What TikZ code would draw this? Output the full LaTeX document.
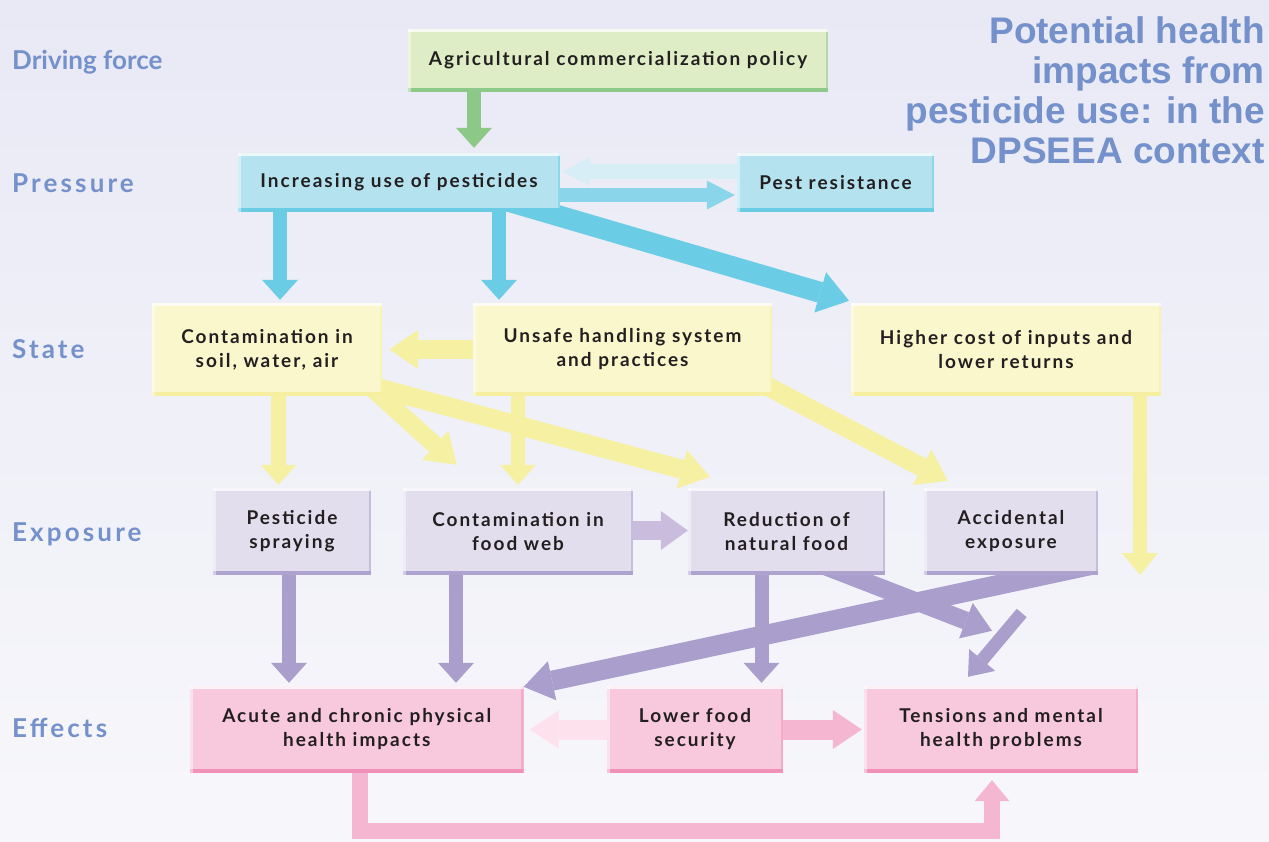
\documentclass[tikz,border=0pt]{standalone}
\usepackage{fontspec}
\usetikzlibrary{arrows.meta}
\setmainfont{Lato}
\newfontfamily\boxfont{Lato}[LetterSpace=10.5]
\newfontfamily\lblfont{Lato}
\newfontfamily\lblwide{Lato}[LetterSpace=12]
\newfontfamily\ttlfont{Liberation Sans}
\definecolor{bgtop}{HTML}{E8E9F5}
\definecolor{bgbot}{HTML}{F7F7FB}
\definecolor{txt}{HTML}{231F20}
\definecolor{lbl}{HTML}{7491CB}
\definecolor{gFill}{HTML}{DFEDC6}
\definecolor{gEdge}{HTML}{8DCA8A}
\definecolor{gArr}{HTML}{8CC888}
\definecolor{bFill}{HTML}{B4E3EF}
\definecolor{bEdge}{HTML}{6ACDE5}
\definecolor{bArr}{HTML}{6ACDE5}
\definecolor{bArrF}{HTML}{8BD5EA}
\definecolor{bArrB}{HTML}{D8EEF6}
\definecolor{yFill}{HTML}{FAF7CD}
\definecolor{yEdge}{HTML}{F6EFA1}
\definecolor{yArr}{HTML}{F6F0A3}
\definecolor{pFill}{HTML}{E2DEEE}
\definecolor{pEdge}{HTML}{AEA3CF}
\definecolor{pArr}{HTML}{AA9FCC}
\definecolor{pArrL}{HTML}{C9BCDD}
\definecolor{kFill}{HTML}{F8C9DD}
\definecolor{kEdge}{HTML}{F190B9}
\definecolor{kArr}{HTML}{F5B6D1}
\definecolor{kArrL}{HTML}{FDE1EC}
\begin{document}
\begin{tikzpicture}[x=1pt,y=-1pt,
  dbox/.style n args={4}{fill=#1, minimum width=#3, minimum height=#4, inner sep=0pt,
     align=center, text=txt, font=\boxfont\bfseries\fontsize{19}{24}\selectfont,
     path picture={
       \fill[#2] (path picture bounding box.south west) rectangle ([yshift=4pt]path picture bounding box.south east);
       \fill[#2!55!#1] ([xshift=-2.5pt]path picture bounding box.north east) rectangle ([yshift=4pt]path picture bounding box.south east);
       \fill[white,opacity=.75] (path picture bounding box.north west) rectangle ([yshift=-2.5pt]path picture bounding box.north east);
       \fill[white,opacity=.45] (path picture bounding box.north west) rectangle ([xshift=2.5pt]path picture bounding box.south west);
     }},
  blk/.style n args={4}{draw=#1, line width=#2, line join=miter, -{Triangle[width=#3,length=#4,line width'=0pt]}},
  side/.style={text=lbl, anchor=base west, inner sep=0pt, font=\lblfont\bfseries\fontsize{26}{30}\selectfont},
  sidew/.style={text=lbl, anchor=base west, inner sep=0pt, font=\lblwide\bfseries\fontsize{26}{30}\selectfont},
  ttl/.style={text=lbl, anchor=base east, align=right, inner sep=0pt, font=\ttlfont\bfseries\fontsize{37}{40}\selectfont}
]
\useasboundingbox (0,0) rectangle (1269,841);
\shade[top color=bgtop, bottom color=bgbot] (0pt,0pt) rectangle (1269pt,-841pt);

% box centres
\path (618,60.5) coordinate (cAgri) (399,182.5) coordinate (cIncr) (835.5,182.5) coordinate (cPest)
      (267,349.5) coordinate (cSoil) (622.5,349.5) coordinate (cUnsafe) (1006,349.5) coordinate (cHigher)
      (292,531.5) coordinate (cSpray) (518,531.5) coordinate (cFood) (786.5,531.5) coordinate (cRed)
      (1011,531.5) coordinate (cAcc) (356.75,729.5) coordinate (cAcute) (695,729.5) coordinate (cLower)
      (1001,729.5) coordinate (cTens);

% invisible frames of the boxes, for the connectors' anchors
\begin{scope}[opacity=0]
\node[minimum width=420pt, minimum height=63pt, inner sep=0pt] (agri) at (cAgri) {};
\node[minimum width=322pt, minimum height=59pt, inner sep=0pt] (incr) at (cIncr) {};
\node[minimum width=197pt, minimum height=59pt, inner sep=0pt] (pest) at (cPest) {};
\node[minimum width=230pt, minimum height=93pt, inner sep=0pt] (soil) at (cSoil) {};
\node[minimum width=299pt, minimum height=93pt, inner sep=0pt] (unsafe) at (cUnsafe) {};
\node[minimum width=310pt, minimum height=93pt, inner sep=0pt] (higher) at (cHigher) {};
\node[minimum width=158pt, minimum height=87pt, inner sep=0pt] (spray) at (cSpray) {};
\node[minimum width=230pt, minimum height=87pt, inner sep=0pt] (food) at (cFood) {};
\node[minimum width=197pt, minimum height=87pt, inner sep=0pt] (red) at (cRed) {};
\node[minimum width=174pt, minimum height=87pt, inner sep=0pt] (acc) at (cAcc) {};
\node[minimum width=333.5pt, minimum height=87pt, inner sep=0pt] (acute) at (cAcute) {};
\node[minimum width=176pt, minimum height=87pt, inner sep=0pt] (lower) at (cLower) {};
\node[minimum width=274pt, minimum height=87pt, inner sep=0pt] (tens) at (cTens) {};
\end{scope}

\coordinate (hcEnd) at (1140,575);
\coordinate (accT) at (1021.7,613);

% ---- arrows ----
\draw[blk={gArr}{14pt}{36pt}{20pt}] ([xshift=-144pt]agri.south) -- ([xshift=75pt,yshift=5pt]incr.north);
\draw[blk={bArr}{14pt}{36pt}{20pt}] ([xshift=-119pt]incr.south) -- ([xshift=13pt,yshift=3pt]soil.north);
\draw[blk={bArr}{14pt}{36pt}{20pt}] ([xshift=100pt]incr.south) -- ([xshift=-123.5pt,yshift=3pt]unsafe.north);
\draw[blk={bArr}{21pt}{42pt}{30pt}] ([xshift=106pt,yshift=12pt]incr.south) -- ([xshift=-157pt,yshift=2pt]higher.north);
\draw[blk={bArrB}{15pt}{29pt}{28pt}] ([yshift=11pt]pest.west) -- ([yshift=11pt,xshift=2pt]incr.east);
\draw[blk={bArrF}{14pt}{29pt}{28pt}] ([yshift=-12.5pt]incr.east) -- ([yshift=-12.5pt,xshift=-2pt]pest.west);

\draw[blk={yArr}{19pt}{39pt}{29pt}] (unsafe.west) -- ([xshift=7pt]soil.east);
\draw[blk={yArr}{14.5pt}{36pt}{20pt}] ([xshift=11.5pt]soil.south) -- ([xshift=-13.5pt,yshift=3pt]spray.north);
\draw[blk={yArr}{18pt}{39pt}{29pt}] ([xshift=-10pt,yshift=8pt]soil.south east) -- ([xshift=54pt,yshift=23pt]food.north west);
\draw[blk={yArr}{19pt}{40pt}{29pt}] ([xshift=-10pt,yshift=10pt]soil.south east) -- ([xshift=22pt,yshift=11pt]red.north west);
\draw[blk={yArr}{14.5pt}{36pt}{20pt}] ([xshift=-104.5pt]unsafe.south) -- ([yshift=3pt]food.north);
\draw[blk={yArr}{19pt}{40pt}{29pt}] ([xshift=-7pt,yshift=11pt]unsafe.south east) -- ([xshift=24pt,yshift=7pt]acc.north west);
\draw[blk={yArr}{14pt}{36pt}{22pt}] ([xshift=134pt]higher.south) -- (hcEnd);

\draw[blk={pArr}{14pt}{36pt}{20pt}] ([xshift=-3pt]spray.south) -- ([xshift=-67.75pt,yshift=3pt]acute.north);
\draw[blk={pArr}{14pt}{36pt}{20pt}] ([xshift=-62pt]food.south) -- ([xshift=99.25pt,yshift=3pt]acute.north);
\draw[blk={pArrL}{19pt}{39pt}{27pt}] ([yshift=1pt]food.east) -- ([yshift=1pt]red.west);
\draw[blk={pArr}{14pt}{36pt}{20pt}] ([xshift=-25pt]red.south) -- ([xshift=66.5pt,yshift=3pt]lower.north);
\draw[blk={pArr}{18pt}{38pt}{28pt}] ([xshift=33.5pt,yshift=11pt]red.south) -- ([xshift=-9pt,yshift=55pt]tens.north);
\draw[blk={pArr}{20pt}{40pt}{29pt}] ([xshift=79pt,yshift=10pt]acc.south) -- ([yshift=-1pt]acute.north east);
\draw[blk={pArr}{13pt}{34pt}{22pt}] (accT) -- ([xshift=-33pt,yshift=9pt]tens.north);

\draw[blk={kArrL}{20pt}{38pt}{29pt}] (lower.west) -- ([xshift=6pt]acute.east);
\draw[blk={kArr}{20pt}{39pt}{29pt}] (lower.east) -- ([xshift=-2pt]tens.west);
\draw[blk={kArr}{16pt}{35pt}{21pt}] ([xshift=3.25pt]acute.south) -- ++(0,58) -| ([xshift=-9pt,yshift=-7pt]tens.south);

% ---- boxes ----
\node[dbox={gFill}{gEdge}{420pt}{63pt}] (agriB) at (cAgri) {Agricultural commercialization policy};
\node[dbox={bFill}{bEdge}{322pt}{59pt}] (incrB) at (cIncr) {Increasing use of pesticides};
\node[dbox={bFill}{bEdge}{197pt}{59pt}] (pestB) at (cPest) {Pest resistance};
\node[dbox={yFill}{yEdge}{230pt}{93pt}] (soilB) at (cSoil) {Contamination in\\soil, water, air};
\node[dbox={yFill}{yEdge}{299pt}{93pt}] (unsafeB) at (cUnsafe) {Unsafe handling system\\and practices};
\node[dbox={yFill}{yEdge}{310pt}{93pt}] (higherB) at (cHigher) {Higher cost of inputs and\\lower returns};
\node[dbox={pFill}{pEdge}{158pt}{87pt}] (sprayB) at (cSpray) {Pesticide\\spraying};
\node[dbox={pFill}{pEdge}{230pt}{87pt}] (foodB) at (cFood) {Contamination in\\food web};
\node[dbox={pFill}{pEdge}{197pt}{87pt}] (redB) at (cRed) {Reduction of\\natural food};
\node[dbox={pFill}{pEdge}{174pt}{87pt}] (accB) at (cAcc) {Accidental\\exposure};
\node[dbox={kFill}{kEdge}{333.5pt}{87pt}] (acuteB) at (cAcute) {Acute and chronic physical\\health impacts};
\node[dbox={kFill}{kEdge}{176pt}{87pt}] (lowerB) at (cLower) {Lower food\\security};
\node[dbox={kFill}{kEdge}{274pt}{87pt}] (tensB) at (cTens) {Tensions and mental\\health problems};

% ---- side labels and title ----
\node[side] (lD) at (12,69) {Driving force};
\node[sidew] (lP) at (12,192) {Pressure};
\node[sidew] (lS) at (12,358) {State};
\node[sidew] (lE) at (12,541) {Exposure};
\node[sidew] (lF) at (12,737) {Effects};
\node[ttl] (title) at (1265,163) {Potential health\\impacts from\\pesticide use: in the\\DPSEEA context};
\end{tikzpicture}
\end{document}
